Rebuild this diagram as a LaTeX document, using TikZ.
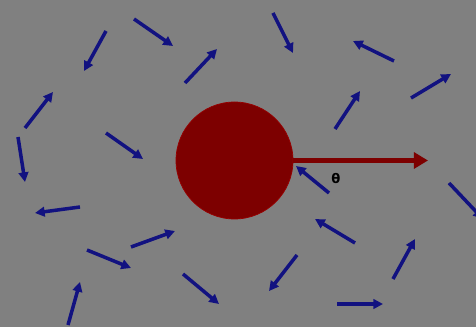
\documentclass[tikz,border=0pt]{standalone}
\usepackage{amsmath, amssymb, bm}
\usepackage{xcolor}
\usepackage{fontspec}
\usetikzlibrary{arrows.meta, positioning}
\newfontfamily\anglefont{DejaVu Sans}
\definecolor{bggray}{RGB}{128, 128, 128}
\definecolor{balldark}{RGB}{125, 0, 0}
\definecolor{spinblue}{RGB}{18, 18, 128}

\begin{document}
\begin{tikzpicture}[x=0.02cm,y=-0.02cm,
    spin/.style={spinblue,line width=2pt,-{Triangle[length=5.5pt,width=5.5pt]}},
    field/.style={balldark,line width=2.8pt,-{Triangle[length=8pt,width=9pt]}}]
        \fill[bggray](0,0) rectangle (476,327);
        \useasboundingbox (0,0) rectangle (476,327);
        \clip (0,0) rectangle (476,327);
        % central ball and field direction
        \node[circle,fill=balldark,draw=balldark!80!red,minimum size=117*0.02cm,inner sep=0pt] (ball) at (234.5,160.5){};
        \coordinate (tip) at (428,160.5);
        \draw[field](ball.east)--(tip);
        \node[font=\anglefont\bfseries\fontsize{7.5}{9}\selectfont] (theta) at (336,179){θ};
        % spins
        \draw[spin](106,31)--(84,71);
        \draw[spin](134,19)--(173,46);
        \draw[spin](185,83)--(217,49);
        \draw[spin](25,128)--(53,92);
        \draw[spin](106,133)--(143,159);
        \draw[spin](18,137)--(25,182);
        \draw[spin](273,13)--(293,53);
        \draw[spin](394,61)--(353,41);
        \draw[spin](411,98)--(451,74);
        \draw[spin](335,129)--(360,91);
        \draw[spin](80,207)--(35,213);
        \draw[spin](131,247)--(175,231);
        \draw[spin](87,250)--(131,268);
        \draw[spin](183,274)--(219,304);
        \draw[spin](68,325)--(80,282);
        \draw[spin](329,193)--(296,166);
        \draw[spin](355,243)--(315,219);
        \draw[spin](297,255)--(269,291);
        \draw[spin](393,279)--(415,239);
        \draw[spin](337,304)--(383,304);
        \draw[spin](449,183)--(483,219);
      \end{tikzpicture}
\end{document}
